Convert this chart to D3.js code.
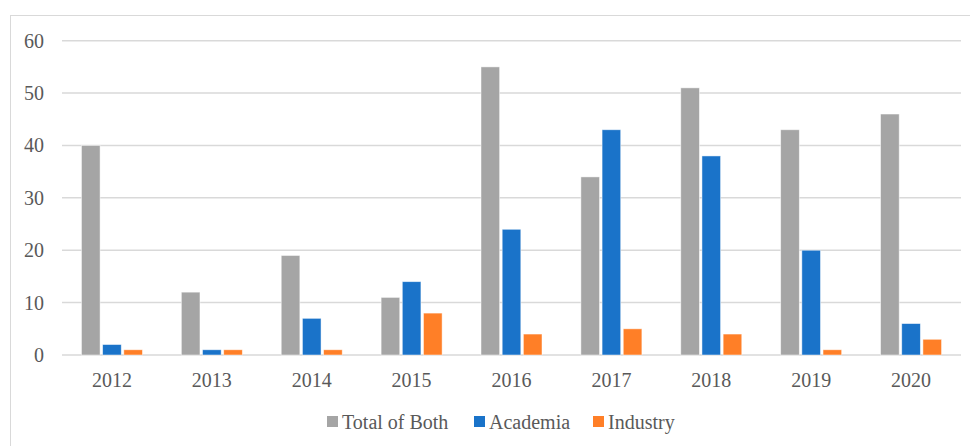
<!DOCTYPE html>
<html>
<head>
<meta charset="utf-8">
<script src="https://cdn.jsdelivr.net/npm/d3@7.9.0/dist/d3.min.js"></script>
<style>
  body { margin: 0; background: #fff; }
  svg { display: block; }
  svg text { font-family: "Liberation Serif", "DejaVu Serif", serif; }
</style>
</head>
<body>
<svg id="chart" width="970" height="446"></svg>
<script>
const years = ['2012', '2013', '2014', '2015', '2016', '2017', '2018', '2019', '2020'];
const seriesNames = ['Total of Both', 'Academia', 'Industry'];
const totalOfBoth = [40, 12, 19, 11, 55, 34, 51, 43, 46];
const academia = [2, 1, 7, 14, 24, 43, 38, 20, 6];
const industry = [1, 1, 1, 8, 4, 5, 4, 1, 3];
const yTicks = [0, 10, 20, 30, 40, 50, 60];
const colors = ['#a5a5a5', '#1a73c9', '#ff7f27'];

const series = [totalOfBoth, academia, industry];

const svg = d3.select('#chart');

// outer frame like the office chart area
svg.append('rect')
  .attr('x', 10.5).attr('y', 15.5)
  .attr('width', 975).attr('height', 460)
  .attr('fill', 'none')
  .attr('stroke', '#d9d9d9')
  .attr('stroke-width', 1);

const plotLeft = 62, plotRight = 961, plotTop = 40.7, plotBottom = 355;

let x = d3.scaleBand().domain(years).range([plotLeft, plotRight]).padding(0);
let xInner = d3.scaleBand().domain(d3.range(3)).range([0, 61]).paddingInner(0.12);
let y = d3.scaleLinear().domain([0, 60]).range([plotBottom, plotTop]);

// gridlines
svg.append('g')
  .selectAll('line')
  .data(yTicks)
  .join('line')
  .attr('x1', plotLeft).attr('x2', plotRight)
  .attr('y1', (d) => y(d)).attr('y2', (d) => y(d))
  .attr('stroke', '#d9d9d9')
  .attr('stroke-width', 1.5);

// y labels
svg.append('g')
  .selectAll('text')
  .data(yTicks)
  .join('text')
  .attr('x', 44)
  .attr('y', (d) => y(d))
  .attr('dy', '0.35em')
  .attr('text-anchor', 'end')
  .attr('fill', '#595959')
  .attr('font-size', 20)
  .text((d) => d);

// bars
const groupOffset = (x.bandwidth() - 61) / 2;
series.forEach((values, s) => {
  svg.append('g')
    .selectAll('rect')
    .data(values)
    .join('rect')
    .attr('x', (d, i) => x(years[i]) + groupOffset + xInner(s))
    .attr('y', (d) => y(d))
    .attr('width', xInner.bandwidth())
    .attr('height', (d) => y(0) - y(d))
    .attr('fill', colors[s])
    .attr('stroke', '#ffffff')
    .attr('stroke-opacity', 0.6)
    .attr('stroke-width', 0.8);
});

// x labels
svg.append('g')
  .selectAll('text')
  .data(years)
  .join('text')
  .attr('x', (d) => x(d) + x.bandwidth() / 2)
  .attr('y', 380)
  .attr('dy', '0.35em')
  .attr('text-anchor', 'middle')
  .attr('fill', '#595959')
  .attr('font-size', 20)
  .text((d) => d);

// legend
const legendX = [327, 474, 593];
const legend = svg.append('g');
seriesNames.forEach((name, i) => {
  legend.append('rect')
    .attr('x', legendX[i]).attr('y', 416)
    .attr('width', 11).attr('height', 11)
    .attr('fill', colors[i]);
  legend.append('text')
    .attr('x', legendX[i] + 15)
    .attr('y', 421.5)
    .attr('dy', '0.35em')
    .attr('fill', '#595959')
    .attr('font-size', 20)
    .text(name);
});
</script>
</body>
</html>
